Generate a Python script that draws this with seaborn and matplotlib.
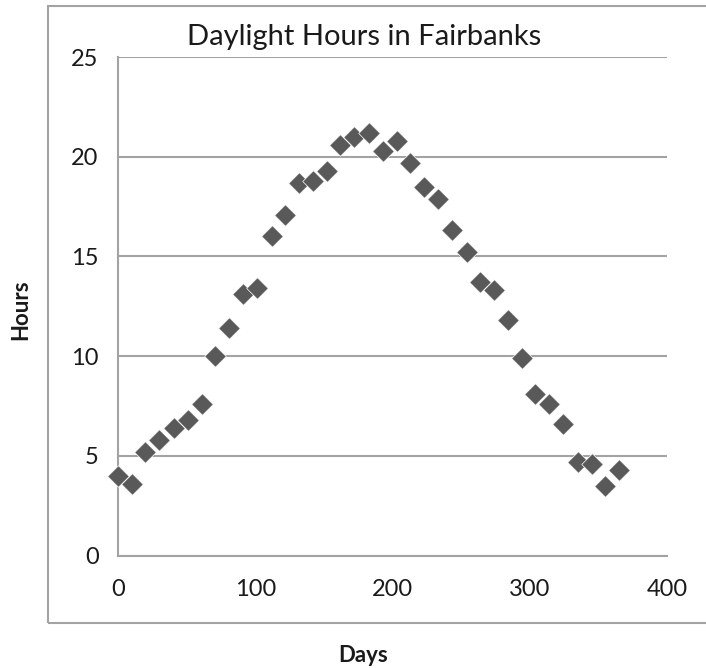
import matplotlib
matplotlib.use("Agg")
import matplotlib.pyplot as plt
import matplotlib.patches as mpatches
import seaborn as sns
import pandas as pd

sns.set_style("white")
plt.rcParams["font.family"] = ["Lato", "DejaVu Sans"]

# data
DAYS = [0, 10, 20, 30, 41, 51, 61, 71, 81, 91, 101, 112, 122, 132, 142, 152,
        162, 172, 183, 193, 203, 213, 223, 233, 243, 254, 264, 274, 284, 294,
        304, 314, 324, 335, 345, 355, 365]
HOURS = [4.0, 3.6, 5.2, 5.8, 6.4, 6.8, 7.6, 10.0, 11.4, 13.1, 13.4, 16.0,
         17.1, 18.7, 18.8, 19.3, 20.6, 21.0, 21.2, 20.3, 20.8, 19.7, 18.5,
         17.9, 16.3, 15.2, 13.7, 13.3, 11.8, 9.9, 8.1, 7.6, 6.6, 4.7, 4.6,
         3.5, 4.3]
X_TICKS = [0, 100, 200, 300, 400]
Y_TICKS = [0, 5, 10, 15, 20, 25]

GRID = "#a3a3a3"
MARKER = "#595959"
W, H = 706, 668


def main():
    df = pd.DataFrame({"Days": DAYS, "Hours": HOURS})

    fig = plt.figure(figsize=(W / 100, H / 100), dpi=100)
    ax = fig.add_axes([118 / W, 1 - 555.5 / H, (667 - 118) / W, (555.5 - 57) / H])

    sns.scatterplot(data=df, x="Days", y="Hours", ax=ax, marker="D", s=120,
                    color=MARKER, edgecolor="white", linewidth=0.5, zorder=3)
    for coll in ax.collections:
        coll.set_clip_on(False)

    ax.set_xlim(0, 400)
    ax.set_ylim(0, 25)
    ax.set_xticks(X_TICKS)
    ax.set_yticks(Y_TICKS)
    ax.set_xlabel("")
    ax.set_ylabel("")
    ax.yaxis.grid(True, color=GRID, linewidth=1.5)
    ax.set_axisbelow(True)
    for side in ["top", "right"]:
        ax.spines[side].set_visible(False)
    for side in ["left", "bottom"]:
        ax.spines[side].set_color(GRID)
        ax.spines[side].set_linewidth(1.5)
    ax.tick_params(axis="both", direction="out", color=GRID, width=1.5,
                   length=7, labelsize=17, labelcolor="#1a1a1a")
    ax.tick_params(axis="x", pad=10)
    ax.tick_params(axis="y", pad=7)

    # outer chart frame (right side cut off like the reference)
    frame = mpatches.Rectangle((48 / W, 1 - 623 / H), 1.0, (623 - 6) / H,
                               transform=fig.transFigure, fill=False,
                               edgecolor=GRID, linewidth=1.5)
    fig.patches.append(frame)

    fig.text(364 / W, 1 - 37 / H, "Daylight Hours in Fairbanks", fontsize=21,
             ha="center", va="center", color="#1a1a1a")
    fig.text(363 / W, 1 - 655 / H, "Days", fontsize=16, fontweight="bold",
             ha="center", va="center", color="#1a1a1a")
    fig.text(21 / W, 1 - 310 / H, "Hours", fontsize=16, fontweight="bold",
             rotation=90, ha="center", va="center", color="#1a1a1a")

    fig.savefig("out.png", dpi=100, facecolor="white")
    plt.close(fig)


if __name__ == "__main__":
    main()
